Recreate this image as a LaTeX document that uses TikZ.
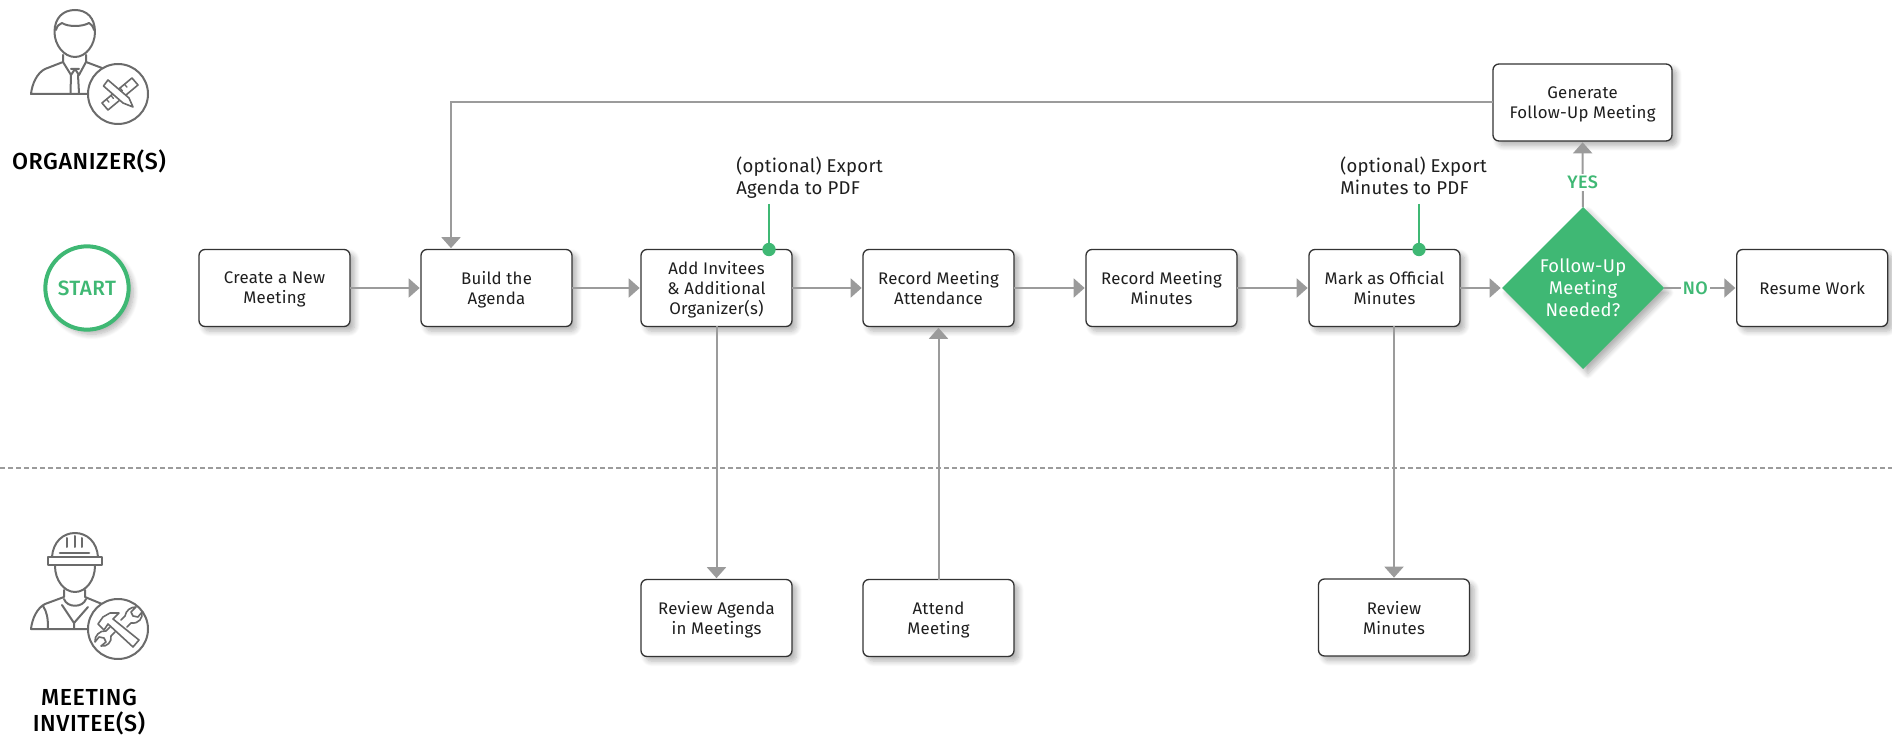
\documentclass[tikz,border=0pt]{standalone}
\usepackage{fontspec}
\setmainfont{Fira Sans}[LetterSpace=1.5]
\newfontfamily\medfont{Fira Sans Medium}[LetterSpace=2.5]
\usepackage{tikz}
\usetikzlibrary{arrows.meta}
\usetikzlibrary{calc}
\usetikzlibrary{shadows.blur}
\usetikzlibrary{shapes.geometric}
\usetikzlibrary{positioning}
\definecolor{flowgreen}{HTML}{3FB874}
\definecolor{flowgray}{HTML}{9B9B9B}
\definecolor{icongray}{HTML}{6B6B6B}
\definecolor{boxline}{HTML}{333333}
\definecolor{inktext}{HTML}{1E1E1E}

\begin{document}
\begin{tikzpicture}[x=0.75pt,y=-0.75pt,
        softshadow/.style={blur shadow={shadow xshift=3.5pt,shadow yshift=-3.5pt,shadow blur radius=4pt,shadow blur steps=8,shadow opacity=30}},
        taskbox/.style={draw=boxline,line width=1pt,fill=white,rounded corners=4.5pt,minimum width=113.25pt,minimum height=57.75pt,inner sep=0pt,outer sep=0pt,align=center,text=inktext,font=\fontsize{12.6pt}{15pt}\selectfont,text depth=0pt,softshadow},
        decision/.style={diamond,aspect=1,fill=flowgreen,minimum width=121.5pt,minimum height=121.5pt,inner sep=0pt,outer sep=0pt,align=center,text=white,font=\fontsize{13.8pt}{16.5pt}\selectfont,softshadow},
        startnode/.style={circle,draw=flowgreen,line width=3pt,fill=white,minimum size=62.5pt,inner sep=0pt,outer sep=0pt,text=flowgreen,font=\fontsize{15.5pt}{18pt}\medfont,softshadow},
        flowarrow/.style={draw=flowgray,line width=1.5pt,-{Triangle[length=8.25pt,width=14.25pt]},shorten >=1pt},
        noteline/.style={draw=flowgreen,line width=1pt},
        notedot/.style={circle,fill=flowgreen,minimum size=10pt,inner sep=0pt,outer sep=0pt},
        notetext/.style={align=left,anchor=north west,inner sep=0pt,text=inktext,font=\fontsize{13.9pt}{16.5pt}\selectfont},
        answer/.style={fill=white,text=flowgreen,inner sep=1.5pt,font=\fontsize{13.5pt}{15pt}\medfont},
        rolelabel/.style={align=center,text=black,font=\fontsize{17.4pt}{19.5pt}\medfont},
        icon/.style={draw=icongray,line width=1.5pt,line join=round,line cap=round}]
        \useasboundingbox (0,0) rectangle (1892,737);

        % swimlane divider
        \draw[flowgray,line width=1pt,dash pattern=on 4pt off 2pt] (0,468) -- (1892,468);

        \node[startnode] (start) at (87,288) {START};
        \node[taskbox] (create) at (274.5,288) {Create a New\\Meeting};
        \node[taskbox, right=53.25pt of create] (build) {Build the\\Agenda};
        \node[taskbox, right=51.75pt of build] (invitees) {Add Invitees\\\& Additional\\Organizer(s)};
        \node[taskbox, right=53.25pt of invitees] (attendance) {Record Meeting\\Attendance};
        \node[taskbox, right=54pt of attendance] (minutes) {Record Meeting\\Minutes};
        \node[taskbox, right=54pt of minutes] (official) {Mark as Official\\Minutes};
        \node[decision, right=31.5pt of official] (followup) {Follow-Up\\Meeting\\Needed?};
        \node[taskbox, right=54.5pt of followup] (resume) {Resume Work};
        \node[taskbox, minimum width=134.25pt] (generate) at (1582.5,102.5) {Generate\\Follow-Up Meeting};

        \node[taskbox, below=189.75pt of invitees] (revagenda) {Review Agenda\\in Meetings};
        \node[taskbox, below=189.75pt of attendance] (attend) {Attend\\Meeting};
        \node[taskbox] (revminutes) at (1394,617.5) {Review\\Minutes};

        \node[notetext] (agendanote) at (736,156.5) {(optional) Export\\Agenda to PDF};
        \node[notetext] (minutesnote) at (1340,156.5) {(optional) Export\\Minutes to PDF};
        \node[notedot] (agendadot) at ($(invitees.north)+(52.5,0)$) {};
        \node[notedot] (minutesdot) at ($(official.north)+(34.5,0)$) {};

        \draw[noteline] (agendadot |- 0,204) coordinate (agendatop) -- (agendadot);
        \draw[noteline] (minutesdot |- 0,204) coordinate (minutestop) -- (minutesdot);

        \draw[flowarrow] (create) -- (build);
        \draw[flowarrow] (build) -- (invitees);
        \draw[flowarrow] (invitees) -- (attendance);
        \draw[flowarrow] (attendance) -- (minutes);
        \draw[flowarrow] (minutes) -- (official);
        \draw[flowarrow] (official) -- (followup);
        \draw[flowarrow] (followup) -- node[answer, pos=0.43] (noanswer) {NO} (resume);
        \draw[flowarrow] (followup) -- node[answer, pos=0.38] (yesanswer) {YES} (generate);
        \draw[flowarrow] (generate.west) -| ($(build.north west)+(30,0)$);
        \draw[flowarrow] (invitees) -- (revagenda);
        \draw[flowarrow] (attend) -- (attendance);
        \draw[flowarrow] (official.south -| revminutes.north) -- (revminutes);

        \node[rolelabel] (organizers) at (89,161) {ORGANIZER(S)};
        \node[rolelabel] (invitee) at (89,712.5) {MEETING\\INVITEE(S)};

        % organizer figure
        \draw[icon] (54.5,32) .. controls (54.5,18) and (63,10) .. (75,10) .. controls (87,10) and (95,18) .. (95,32) .. controls (95,45) and (86,57) .. (75,57) .. controls (64,57) and (54.5,45) .. (54.5,32);
        \draw[icon] (56,30) .. controls (57,26) and (59,24) .. (62,23) .. controls (68,27) and (82,27) .. (89,23) .. controls (91,24) and (93,26) .. (94,30);
        \draw[icon] (63,55) -- (63,62) -- (45,69) .. controls (37,73) and (32,84) .. (31,94) -- (88,94);
        \draw[icon] (86,55) -- (86,62) -- (102,68);
        \draw[icon] (63,62) -- (71,75) -- (75,69) -- (79,75) -- (86,62);
        \draw[icon] (71,75) -- (70.5,93) (78,75) -- (79,93) (71,69) -- (79,69);
        \draw[icon,fill=white] (118,94) circle[radius=30];
        \draw[icon,line width=1.2pt] (102,103) -- (132,78) -- (138,85) -- (108,110) -- cycle;
        \foreach \t in {0.15,0.3,...,0.9}
          \draw[icon,line width=1pt] ($(102,103)!\t!(132,78)$) -- ++(2.5,3);
        \draw[icon,line width=1.2pt,fill=white] (103.5,86) -- (108,80) -- (129,98) -- (133,107) -- (123,103) -- cycle;

        % invitee figure
        \draw[icon] (52,557) .. controls (53,542) and (63,533) .. (75,533) .. controls (87,533) and (97,542) .. (98,557);
        \draw[icon] (48,557) rectangle (102,565);
        \draw[icon,line width=2pt] (60,553) -- (89,553);
        \draw[icon] (67,538) -- (67,547) (74.5,536) -- (74.5,547) (82,538) -- (82,547);
        \draw[icon] (55,566) .. controls (55,580) and (64,592) .. (75,592) .. controls (86,592) and (95,580) .. (95,566);
        \draw[icon] (64,590) -- (64,597) -- (45,604) .. controls (37,608) and (32,619) .. (31,629) -- (88,629);
        \draw[icon] (85,590) -- (85,597) -- (102,604);
        \draw[icon] (64,599) .. controls (67,608) and (83,608) .. (86,599);
        \draw[icon] (62,605) -- (74,623) -- (88,607) (74,623) -- (74,629);
        \draw[icon] (43,606) .. controls (47,612) and (48,618) .. (48,629);
        \draw[icon,fill=white] (118,629) circle[radius=30];
        \draw[icon,line width=1.2pt] (98,624) -- (103,617) -- (110,613) -- (119,613) -- (113,619) -- (139,640) -- (133,647) -- (108,624) -- (104,630) -- cycle;
        \draw[icon,line width=1.2pt] (121,620) -- (125,616) .. controls (126,610) and (131,607) .. (136,607) -- (131,612) -- (133,616) -- (138,617) -- (142,612) .. controls (143,618) and (139,624) .. (131,623) -- (127,627);
        \draw[icon,line width=1.2pt] (115,632) -- (111,636) .. controls (112,642) and (107,647) .. (101,646) -- (106,642) -- (104,638) -- (99,637) -- (95,642) .. controls (94,636) and (100,630) .. (106,631) -- (110,627);
    \end{tikzpicture}
\end{document}
